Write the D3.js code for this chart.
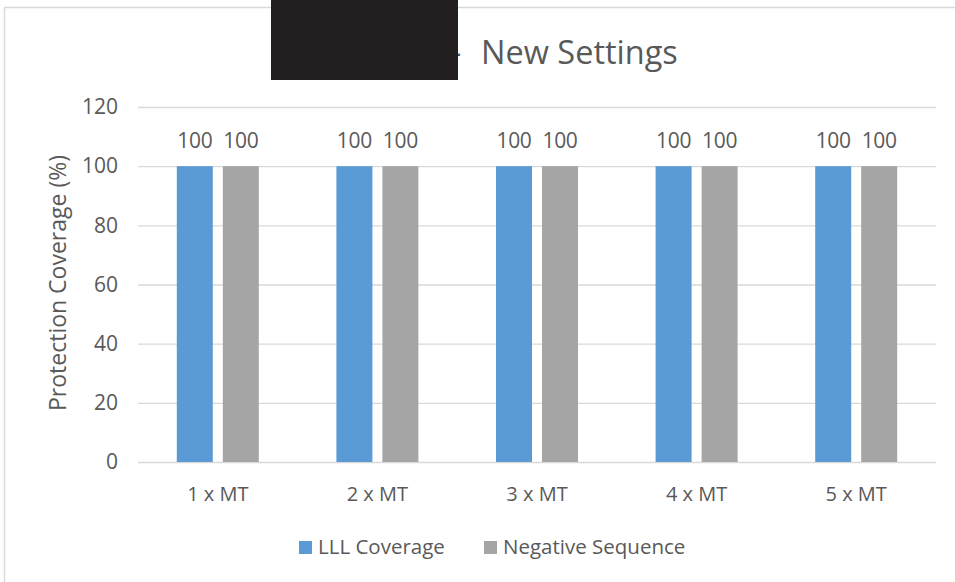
<!DOCTYPE html>
<html><head><meta charset="utf-8">
<script src="https://cdn.jsdelivr.net/npm/d3@7"></script>
<style>body{margin:0;background:#fff}svg{display:block;font-family:"Open Sans",sans-serif}</style>
</head><body><svg id="c" width="955" height="582"></svg>
<script>
const categories = ["1 x MT","2 x MT","3 x MT","4 x MT","5 x MT"];
const seriesNames = ["LLL Coverage","Negative Sequence"];
const lllCoverage = [100,100,100,100,100];
const negativeSequence = [100,100,100,100,100];
const yTicks = [0,20,40,60,80,100,120];
const colors = ["#5B9BD5","#A5A5A5"];

const svg = d3.select("#c");
const txt = "#595959";
svg.append("path").attr("d","M4.5,582 L4.5,7.5 L955,7.5").attr("fill","none").attr("stroke","#D9D9D9").attr("stroke-width",1.5);

const L=138, R=936, T=107, B=462;
const x = d3.scaleBand().domain(categories).range([L,R]);
const y = d3.scaleLinear().domain([0,120]).range([B,T]);

svg.append("g").selectAll("line").data(yTicks).join("line")
 .attr("x1",L).attr("x2",R).attr("y1",d=>y(d)+0.5).attr("y2",d=>y(d)+0.5)
 .attr("stroke","#D9D9D9").attr("stroke-width",1.3);

const yAxis = svg.append("g").attr("transform",`translate(${L},0)`)
 .call(d3.axisLeft(y).tickValues(yTicks).tickSize(0).tickPadding(20));
yAxis.select(".domain").remove();
yAxis.selectAll("text").attr("fill",txt).attr("font-size",21).attr("font-family","Open Sans");

const xAxis = svg.append("g").attr("transform",`translate(0,${B})`)
 .call(d3.axisBottom(x).tickSize(0).tickPadding(25));
xAxis.select(".domain").remove();
xAxis.selectAll("text").attr("fill",txt).attr("font-size",20).attr("font-family","Open Sans");

const data = categories.map((c,i)=>({c, vals:[lllCoverage[i], negativeSequence[i]]}));
const barW = 36, gap = 10;
data.forEach(d=>{
  const cx = x(d.c)+x.bandwidth()/2;
  d.vals.forEach((v,j)=>{
    const x0 = cx - gap/2 - barW + j*(barW+gap);
    svg.append("rect").attr("x",x0).attr("y",y(v)).attr("width",barW).attr("height",y(0)-y(v)).attr("fill",colors[j]);
    svg.append("text").attr("x",x0+barW/2).attr("y",y(v)-18).attr("text-anchor","middle")
      .attr("fill",txt).attr("font-size",21).attr("letter-spacing",-0.3).text(v);
  });
});

svg.append("text").attr("transform","translate(66,283) rotate(-90)").attr("text-anchor","middle")
 .attr("fill",txt).attr("font-size",23).text("Protection Coverage (%)");

svg.append("text").attr("x",451).attr("y",64).attr("fill",txt).attr("font-size",32).text("-");
svg.append("text").attr("x",481).attr("y",64).attr("fill",txt).attr("font-size",32.5).text("New Settings");
svg.append("rect").attr("x",271).attr("y",0).attr("width",187).attr("height",80).attr("fill","#231F20");

const legX=[299,484];
seriesNames.forEach((n,i)=>{
  svg.append("rect").attr("x",legX[i]).attr("y",541).attr("width",13).attr("height",13).attr("fill",colors[i]);
  svg.append("text").attr("x",legX[i]+19).attr("y",554).attr("fill",txt).attr("font-size",20.5).text(n);
});
</script></body></html>
